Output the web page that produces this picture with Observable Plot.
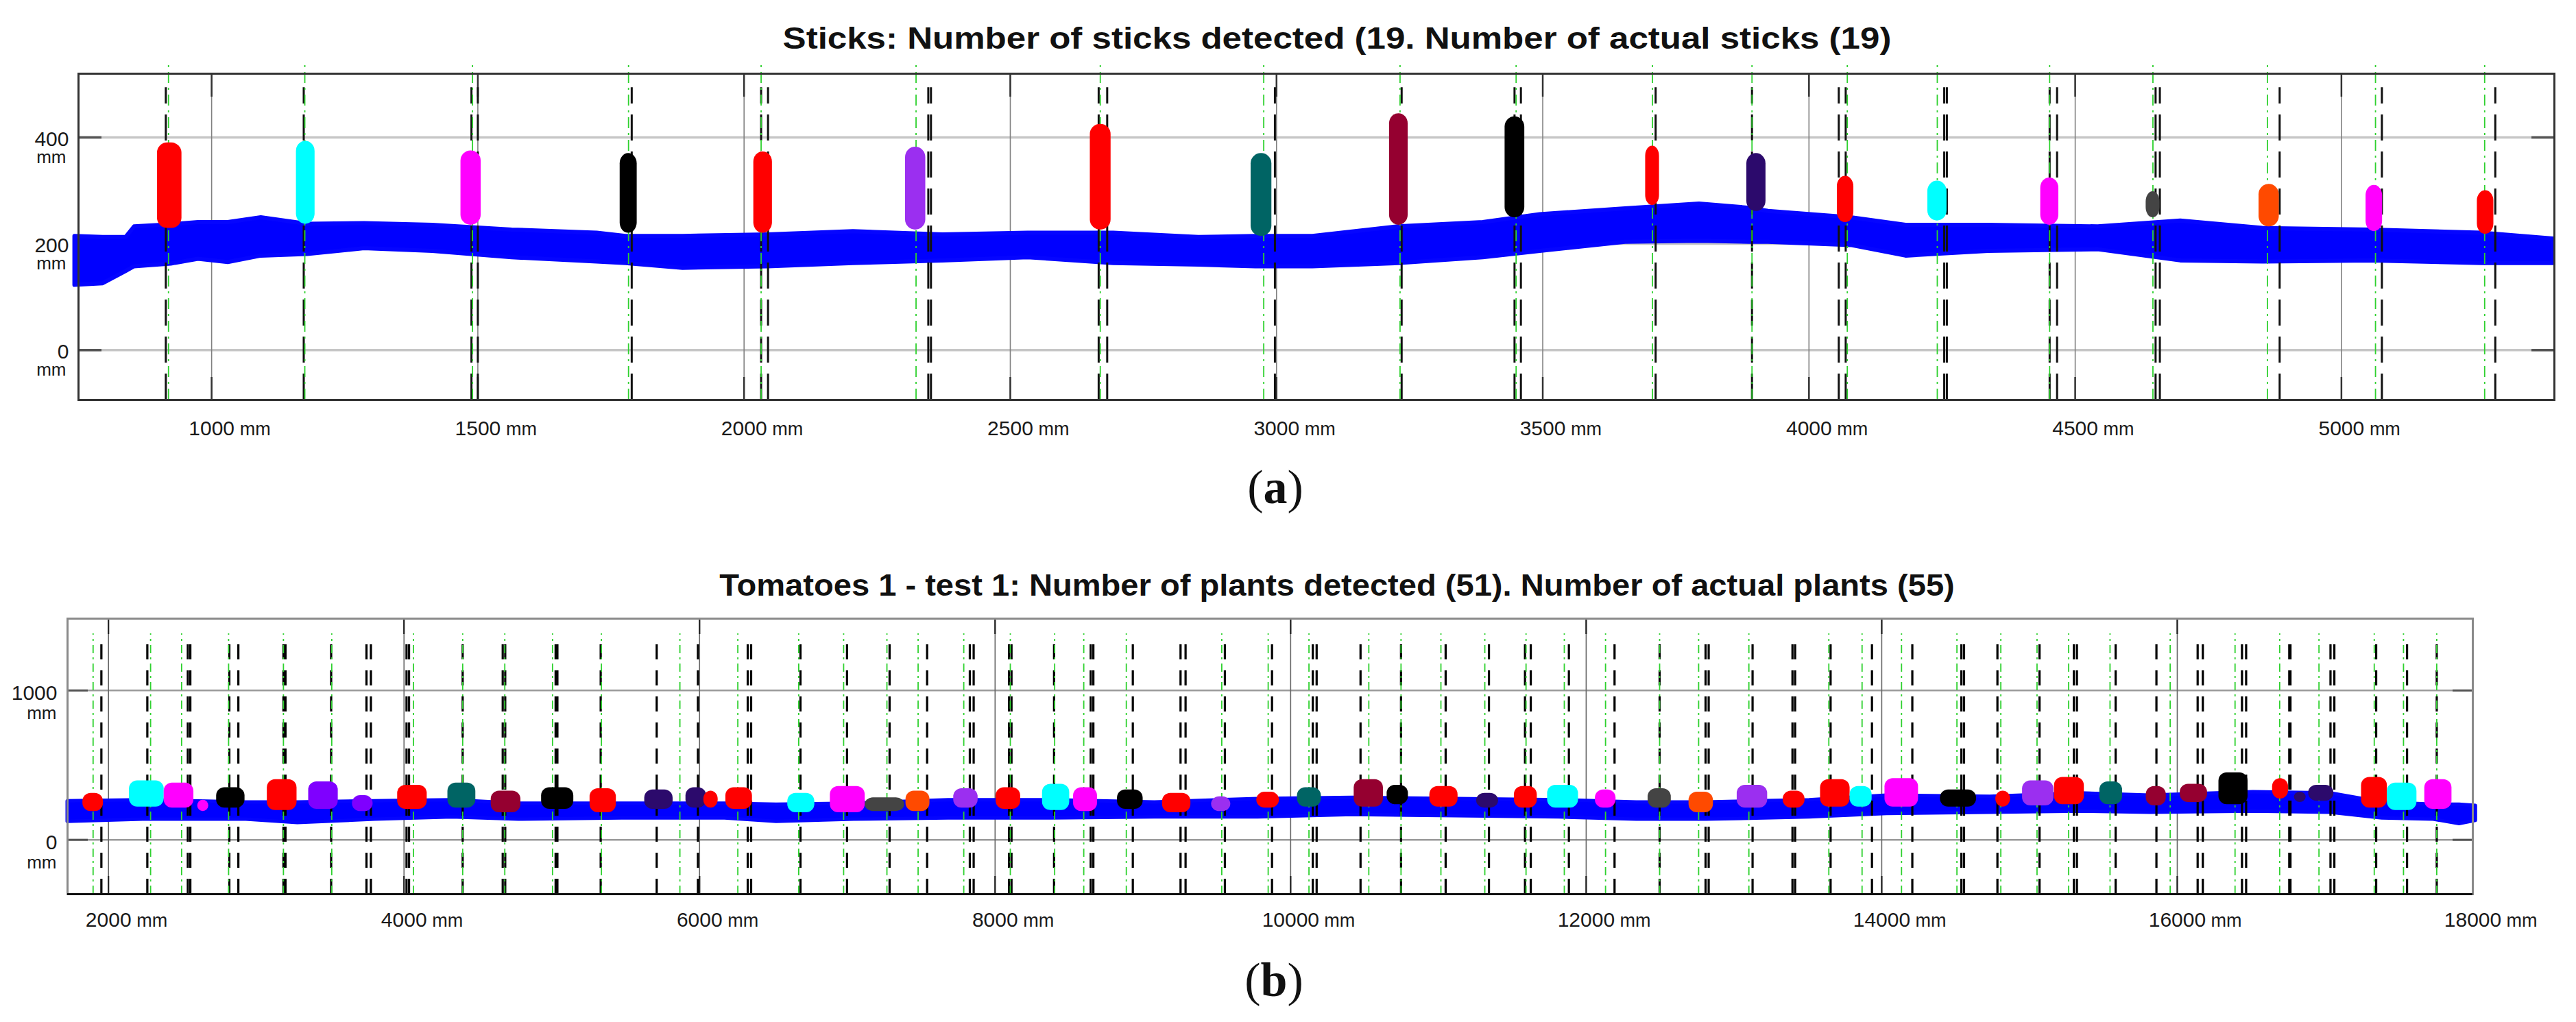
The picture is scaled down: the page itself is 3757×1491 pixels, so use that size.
<!DOCTYPE html>
<html>
<head>
<meta charset="utf-8">
<script src="https://cdn.jsdelivr.net/npm/d3@7"></script>
<script src="https://cdn.jsdelivr.net/npm/@observablehq/plot@0.6"></script>
<style>
html,body{margin:0;padding:0;background:#fff;}
#page{position:relative;width:3757px;height:1491px;overflow:hidden;background:#fff;}
.chart{position:absolute;left:0;}
.ttl{position:absolute;white-space:nowrap;font-family:"Liberation Sans",Arial,Helvetica,sans-serif;font-weight:bold;font-size:44px;line-height:44px;color:#111;}
.sub{position:absolute;transform:translateX(-50%);white-space:nowrap;font-family:"Liberation Serif","Times New Roman",serif;font-size:70px;line-height:70px;color:#111;}
</style>
</head>
<body>
<div id="page">
  <div class="chart" id="chartA" style="top:0px;"></div>
  <div class="chart" id="chartB" style="top:800px;"></div>
  <div class="ttl" style="left:1950px;top:34px;transform:translateX(-50%) scaleX(1.16);">Sticks: Number of sticks detected (19. Number of actual sticks (19)</div>
  <div class="sub" style="left:1860px;top:676px;">(<b>a</b>)</div>
  <div class="ttl" style="left:1950px;top:832px;transform:translateX(-50%) scaleX(1.07);">Tomatoes 1 - test 1: Number of plants detected (51). Number of actual plants (55)</div>
  <div class="sub" style="left:1858px;top:1395px;">(<b>b</b>)</div>
</div>
<script>
// ================= Panel (a): sticks =================
const xDomainA = [750, 5400];
const yDomainA = [-94, 520];
const xTicksA = [1000, 1500, 2000, 2500, 3000, 3500, 4000, 4500, 5000];
const yTicksA = [0, 200, 400];
const actualTopA = 543;
const detectedTopA = 494;
// actual stick positions (green dash-dot) and detected bounds (black dashed), mm
const actualSticksA = [919, 1175, 1490, 1783, 2032, 2323, 2669, 2976, 3232, 3450, 3706, 3893, 4072, 4241, 4452, 4646, 4861, 5064, 5269];
const detectedEdgesA = [914, 1173, 1488, 1500, 1789, 2032, 2045, 2346, 2351, 2666, 2682, 2997, 3235, 3447, 3459, 3712, 3893, 4056, 4069, 4254, 4259, 4452, 4466, 4651, 4659, 4884, 5076, 5289];
// detected stick clusters
const stickStart   = [898, 1159, 1468, 1767, 2018, 2303, 2650, 2952, 3212, 3429, 3693, 3883, 4053, 4223, 4435, 4633, 4845, 5046, 5255];
const stickEnd     = [944, 1194, 1506, 1799, 2053, 2341, 2689, 2991, 3247, 3466, 3719, 3919, 4084, 4259, 4469, 4659, 4883, 5077, 5286];
const stickBottom  = [229, 237, 235, 220, 220, 226, 226, 214, 235, 249, 272, 261, 240, 243, 235, 249, 232, 223, 218];
const stickTop     = [390, 393, 375, 370, 373, 382, 425, 370, 445, 439, 384, 370, 327, 318, 324, 298, 312, 310, 300];
const stickCluster = ["k1", "k2", "k3", "k4", "k1", "k5", "k1", "k7", "k8", "k4", "k1", "k9", "k1", "k2", "k3", "k10", "k11", "k3", "k1"];
// ground points (blue band)
const groundXA    = [743, 796, 839, 855, 924, 975, 1031, 1093, 1180, 1287, 1415, 1564, 1724, 1778, 1885, 2045, 2205, 2373, 2533, 2694, 2854, 2961, 3068, 3228, 3388, 3495, 3655, 3794, 3888, 3924, 4079, 4182, 4337, 4543, 4698, 4852, 5058, 5264, 5398];
const groundLowA  = [122, 125, 148, 157, 162, 171, 165, 177, 180, 191, 186, 174, 166, 163, 154, 157, 163, 168, 174, 163, 160, 157, 157, 163, 174, 186, 203, 205, 203, 203, 197, 177, 186, 189, 168, 166, 168, 163, 163];
const groundHighA = [214, 212, 212, 232, 236, 240, 240, 249, 237, 238, 235, 226, 220, 214, 214, 217, 223, 217, 220, 220, 212, 214, 214, 232, 240, 255, 266, 275, 267, 261, 249, 235, 235, 232, 243, 229, 226, 220, 209];

// ================= Panel (b): tomatoes =================
const xDomainB = [1723, 18000];
const yDomainB = [-364, 1481];
const xTicksB = [2000, 4000, 6000, 8000, 10000, 12000, 14000, 16000, 18000];
const xGridB = [2000, 4000, 6000, 8000, 10000, 12000, 14000, 16000];
const yTicksB = [0, 1000];
const actualTopB = 1380;
const detectedTopB = 1320;
const actualPlantsB = [1896, 2285, 2495, 2813, 3184, 3511, 4064, 4397, 4682, 5005, 5336, 5867, 6259, 6671, 6975, 7268, 7479, 7788, 8103, 8403, 8600, 8888, 9534, 9848, 10124, 10529, 10747, 11017, 11314, 11593, 11852, 12131, 12497, 12761, 13101, 13642, 13867, 14134, 14509, 14806, 15051, 15265, 15545, 15952, 16391, 16693, 16959, 17333, 17531, 17756];
const detectedEdgesB = [1952, 2263, 2537, 2554, 2818, 2879, 3184, 3198, 3507, 3746, 3776, 4017, 4034, 4397, 4668, 4685, 5026, 5038, 5331, 5710, 5989, 6326, 6349, 6683, 6998, 7286, 7540, 7829, 7855, 8094, 8111, 8399, 8647, 8665, 8932, 9255, 9289, 9555, 9874, 10150, 10176, 10473, 10747, 11049, 11342, 11586, 11625, 11883, 12192, 12497, 12808, 12829, 13126, 13396, 13414, 13654, 13934, 14207, 14539, 14557, 14783, 15068, 15300, 15321, 15583, 15859, 16138, 16173, 16438, 16466, 16758, 16766, 17037, 17063, 17346, 17555, 17756];
const plantStart   = [1826, 2141, 2376, 2603, 2731, 3074, 3354, 3650, 3956, 4296, 4589, 4930, 5258, 5628, 5907, 6028, 6177, 6596, 6884, 7120, 7396, 7719, 8006, 8320, 8530, 8827, 9132, 9464, 9770, 10045, 10429, 10652, 10941, 11258, 11513, 11738, 12061, 12418, 12695, 13021, 13332, 13585, 13785, 14021, 14396, 14771, 14952, 15168, 15475, 15789, 16019, 16281, 16644, 16792, 16888, 17246, 17421, 17674];
const plantEnd     = [1965, 2376, 2577, 2678, 2923, 3275, 3554, 3790, 4156, 4485, 4790, 5148, 5436, 5820, 6047, 6125, 6357, 6779, 7120, 7387, 7558, 7884, 8172, 8504, 8692, 9001, 9324, 9594, 9923, 10207, 10627, 10796, 11132, 11406, 11668, 11947, 12201, 12575, 12860, 13227, 13480, 13785, 13934, 14248, 14641, 14871, 15164, 15370, 15629, 15925, 16204, 16478, 16752, 16871, 17059, 17421, 17621, 17858];
const plantBottom  = [190, 220, 213, 190, 213, 197, 205, 190, 205, 213, 182, 205, 182, 205, 213, 213, 205, 182, 182, 190, 190, 213, 205, 197, 190, 205, 182, 190, 213, 220, 220, 236, 220, 213, 213, 213, 213, 213, 182, 213, 213, 220, 220, 220, 220, 220, 228, 236, 236, 228, 251, 236, 274, 251, 259, 213, 197, 205];
const plantTop     = [312, 396, 381, 266, 350, 404, 389, 297, 366, 381, 327, 350, 343, 335, 350, 327, 350, 312, 358, 282, 327, 343, 350, 373, 350, 335, 312, 289, 320, 350, 404, 366, 358, 312, 358, 366, 335, 343, 320, 366, 327, 404, 358, 411, 335, 327, 396, 419, 389, 358, 373, 450, 411, 320, 366, 419, 381, 404];
const plantCluster = ["k1", "k2", "k3", "k3", "k4", "k1", "k6", "k6", "k1", "k7", "k8", "k4", "k1", "k9", "k9", "k1", "k1", "k2", "k3", "k10", "k11", "k5", "k1", "k2", "k3", "k4", "k1", "k5", "k1", "k7", "k8", "k4", "k1", "k9", "k1", "k2", "k3", "k10", "k11", "k5", "k1", "k1", "k2", "k3", "k4", "k1", "k5", "k1", "k7", "k8", "k8", "k4", "k1", "k9", "k9", "k1", "k2", "k3"];
const groundXB    = [1723, 2233, 2931, 3280, 3803, 4326, 4775, 5473, 6171, 6520, 7044, 7684, 8382, 9080, 9778, 10421, 11119, 11817, 12341, 12813, 13511, 14035, 14733, 15344, 15816, 16514, 17037, 17386, 17734, 17909, 18020];
const groundLowB  = [121, 136, 136, 113, 136, 151, 136, 144, 144, 121, 136, 144, 144, 151, 151, 167, 159, 151, 136, 136, 151, 174, 182, 190, 182, 190, 182, 144, 136, 106, 128];
const groundHighB = [259, 266, 251, 251, 259, 266, 243, 243, 243, 236, 243, 266, 266, 251, 274, 282, 274, 266, 251, 251, 266, 297, 289, 312, 297, 320, 312, 251, 236, 236, 228];

// ================= shared =================
// cluster ids: k1 red, k2 cyan, k3 magenta, k4 black, k5 violet, k6 purple, k7 teal, k8 crimson, k9 indigo, k10 dark grey, k11 orange
const clusterIds = ["k1", "k2", "k3", "k4", "k5", "k6", "k7", "k8", "k9", "k10", "k11"];
const clusterHex = ["#ff0000", "#00ffff", "#ff00ff", "#000000", "#9b2ff0", "#7f00ff", "#006464", "#950030", "#2c0a6c", "#444444", "#ff4a00"];
const FONT = '"Liberation Sans", Arial, Helvetica, sans-serif';

const bandA = groundXA.map((x, i) => ({x, lo: groundLowA[i], hi: groundHighA[i]}));
const sticksA = stickStart.map((s, i) => ({x1: s, x2: stickEnd[i], y1: stickBottom[i], y2: stickTop[i], c: stickCluster[i]}));
const bandB = groundXB.map((x, i) => ({x, lo: groundLowB[i], hi: groundHighB[i]}));
const plantsB = plantStart.map((s, i) => ({x1: s, x2: plantEnd[i], y1: plantBottom[i], y2: plantTop[i], c: plantCluster[i]}));

const plotA = Plot.plot({
  width: 3757, height: 660,
  marginTop: 107, marginBottom: 77, marginLeft: 114, marginRight: 32,
  x: {domain: xDomainA, axis: null},
  y: {domain: yDomainA, axis: null},
  color: {type: "ordinal", domain: clusterIds, range: clusterHex},
  style: {background: "transparent", overflow: "visible", fontFamily: FONT},
  marks: [
    Plot.gridY(yTicksA, {stroke: "#c6c6c6", strokeOpacity: 1, strokeWidth: 3.5}),
    Plot.gridX(xTicksA, {stroke: "#808080", strokeOpacity: 1, strokeWidth: 1.6}),
    Plot.axisX(xTicksA, {anchor: "bottom", tickSize: -33, tickFormat: () => "", stroke: "#333", strokeWidth: 2.5, label: null}),
    Plot.axisX(xTicksA, {anchor: "top", tickSize: -33, tickFormat: () => "", stroke: "#333", strokeWidth: 2.5, label: null}),
    Plot.axisY(yTicksA, {anchor: "left", tickSize: -34, tickFormat: () => "", stroke: "#555", strokeWidth: 3.5, label: null}),
    Plot.axisY(yTicksA, {anchor: "right", tickSize: -34, tickFormat: () => "", stroke: "#555", strokeWidth: 3.5, label: null}),
    Plot.areaY(bandA, {x: "x", y1: "lo", y2: "hi", fill: "#0000ff", stroke: "#0505ff", strokeWidth: 6, strokeLinejoin: "round"}),
    Plot.ruleX(detectedEdgesA, {x: d => d, y1: yDomainA[0], y2: detectedTopA, stroke: "#111", strokeWidth: 3, strokeDasharray: "38,16"}),
    Plot.ruleX(actualSticksA, {x: d => d, y1: yDomainA[0], y2: actualTopA, stroke: "#2fd12f", strokeWidth: 1.8, strokeDasharray: "16,7,3,7"}),
    Plot.rect(sticksA, {x1: "x1", x2: "x2", y1: "y1", y2: "y2", fill: "c", rx: 15}),
    Plot.frame({stroke: "#333", strokeWidth: 3}),
    Plot.text(xTicksA, {x: d => d, frameAnchor: "bottom", dy: 51, lineAnchor: "bottom", text: d => String(d), fontSize: 30, fill: "#1a1a1a"}),
    Plot.text(xTicksA, {x: d => d, frameAnchor: "bottom", dy: 51, lineAnchor: "bottom", textAnchor: "start", dx: 41, text: () => "mm", fontSize: 27, fill: "#1a1a1a"}),
    Plot.text(yTicksA, {y: d => d, frameAnchor: "left", textAnchor: "end", dx: -14, dy: 3, text: d => String(d), fontSize: 30, fill: "#1a1a1a"}),
    Plot.text(yTicksA, {y: d => d, frameAnchor: "left", textAnchor: "end", dx: -18, dy: 29, text: () => "mm", fontSize: 26, fill: "#1a1a1a"})
  ]
});
document.getElementById("chartA").appendChild(plotA);

const plotB = Plot.plot({
  width: 3757, height: 560,
  marginTop: 102, marginBottom: 56, marginLeft: 98, marginRight: 151,
  x: {domain: xDomainB, axis: null},
  y: {domain: yDomainB, axis: null},
  color: {type: "ordinal", domain: clusterIds, range: clusterHex},
  style: {background: "transparent", overflow: "visible", fontFamily: FONT},
  marks: [
    Plot.gridY(yTicksB, {stroke: "#9a9a9a", strokeOpacity: 1, strokeWidth: 2.5}),
    Plot.gridX(xGridB, {stroke: "#666", strokeOpacity: 1, strokeWidth: 1.6}),
    Plot.axisX(xGridB, {anchor: "bottom", tickSize: -26, tickFormat: () => "", stroke: "#222", strokeWidth: 2.2, label: null}),
    Plot.axisX(xGridB, {anchor: "top", tickSize: -22, tickFormat: () => "", stroke: "#222", strokeWidth: 2.2, label: null}),
    Plot.axisY(yTicksB, {anchor: "left", tickSize: -30, tickFormat: () => "", stroke: "#555", strokeWidth: 3, label: null}),
    Plot.axisY(yTicksB, {anchor: "right", tickSize: -30, tickFormat: () => "", stroke: "#555", strokeWidth: 3, label: null}),
    Plot.areaY(bandB, {x: "x", y1: "lo", y2: "hi", fill: "#0000ff", stroke: "#0505ff", strokeWidth: 5, strokeLinejoin: "round"}),
    Plot.ruleX(detectedEdgesB, {x: d => d, y1: yDomainB[0], y2: detectedTopB, stroke: "#000", strokeWidth: 3.2, strokeDasharray: "22,16"}),
    Plot.ruleX(actualPlantsB, {x: d => d, y1: yDomainB[0], y2: actualTopB, stroke: "#2fd12f", strokeWidth: 1.8, strokeDasharray: "12,6,3,6"}),
    Plot.rect(plantsB, {x1: "x1", x2: "x2", y1: "y1", y2: "y2", fill: "c", rx: 12}),
    Plot.frame({stroke: "#8a8a8a", strokeWidth: 3}),
    Plot.ruleY([yDomainB[0]], {stroke: "#111", strokeWidth: 3}),
    Plot.text(xTicksB, {x: d => d, frameAnchor: "bottom", dy: 47, lineAnchor: "bottom", text: d => String(d), fontSize: 30, fill: "#1a1a1a"}),
    Plot.text(xTicksB.filter(d => d < 10000), {x: d => d, frameAnchor: "bottom", dy: 47, lineAnchor: "bottom", textAnchor: "start", dx: 41, text: () => "mm", fontSize: 27, fill: "#1a1a1a"}),
    Plot.text(xTicksB.filter(d => d >= 10000), {x: d => d, frameAnchor: "bottom", dy: 47, lineAnchor: "bottom", textAnchor: "start", dx: 49, text: () => "mm", fontSize: 27, fill: "#1a1a1a"}),
    Plot.text(yTicksB, {y: d => d, frameAnchor: "left", textAnchor: "end", dx: -15, dy: 4, text: d => String(d), fontSize: 30, fill: "#1a1a1a"}),
    Plot.text(yTicksB, {y: d => d, frameAnchor: "left", textAnchor: "end", dx: -16, dy: 33, text: () => "mm", fontSize: 26, fill: "#1a1a1a"})
  ]
});
document.getElementById("chartB").appendChild(plotB);
</script>
</body>
</html>
